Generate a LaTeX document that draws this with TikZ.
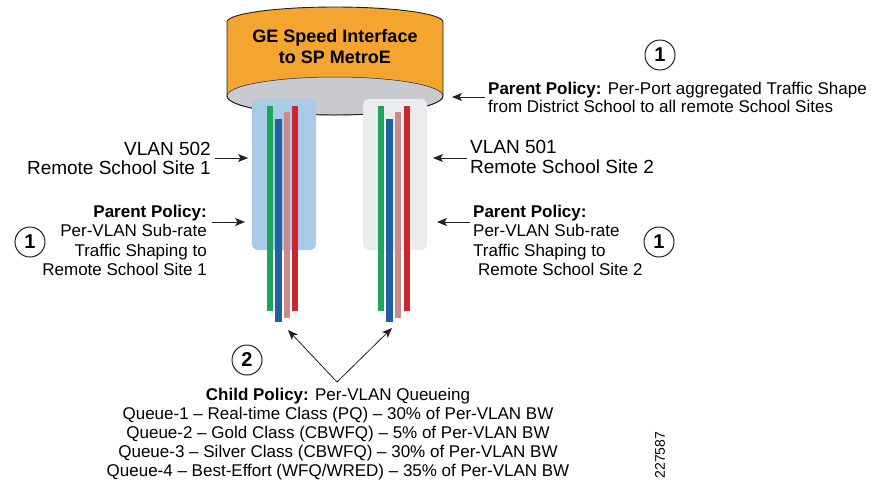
\documentclass[tikz,border=0pt]{standalone}
\usepackage{fontspec}
\setmainfont{Liberation Sans}
\usetikzlibrary{arrows.meta}

\definecolor{cylorange}{HTML}{F3A52F}
\definecolor{cylgrey}{HTML}{C8CAD0}
\definecolor{vlanblue}{HTML}{A8CBE7}
\definecolor{vlangrey}{HTML}{EBECEE}
\definecolor{qgreen}{HTML}{1DA55C}
\definecolor{qblue}{HTML}{2160A3}
\definecolor{qpink}{HTML}{C98B8E}
\definecolor{qred}{HTML}{CA2530}
\definecolor{inkline}{HTML}{231F20}

\begin{document}
\begin{tikzpicture}[x=1pt,y=-1pt,
  lbl/.style={inner sep=0pt, font=\fontsize{17}{19}\selectfont},
  big/.style={inner sep=0pt, font=\fontsize{19}{20}\selectfont},
  ptr/.style={-{Stealth[length=10pt,width=8pt,inset=2.5pt]}, line width=0.8pt, draw=inkline},
  num/.style={circle, draw=inkline, line width=1pt, minimum size=30pt, inner sep=0pt,
              font=\fontsize{20}{20}\selectfont\bfseries},
  vlanbox/.style={rounded corners=6pt, minimum width=64pt, minimum height=151pt, inner sep=0pt},
]
\useasboundingbox (0,0) rectangle (886,483);

% ---- interface cylinder ----
\fill[cylorange] (227,22) arc[start angle=180,end angle=360,x radius=108,y radius=15]
  -- (443,96) arc[start angle=0,end angle=-180,x radius=108,y radius=19] -- cycle;
\filldraw[fill=cylgrey, draw=inkline, line width=0.5pt] (335,96) ellipse[x radius=108, y radius=19];
\draw[inkline, line width=0.9pt] (227,22) arc[start angle=180,end angle=360,x radius=108,y radius=15]
  -- (443,96) arc[start angle=0,end angle=180,x radius=108,y radius=19] -- cycle;
\node[inner sep=0pt, font=\fontsize{18}{21}\selectfont\bfseries, anchor=base] (ge1) at (335,42) {GE Speed Interface};
\node[inner sep=0pt, font=\fontsize{18}{21}\selectfont\bfseries, anchor=base] (ge2) at (335,63) {to SP MetroE};
\coordinate (cylE) at (452,97);

% ---- VLAN boxes ----
\node[vlanbox, fill=vlanblue] (vl502) at (284,174.5) {};
\node[vlanbox, fill=vlangrey] (vl501) at (395,174.5) {};

% ---- queue bars, VLAN 502 ----
\fill[qgreen] (267,106) rectangle (273,311);
\fill[qblue]  (275,119) rectangle (282,322);
\fill[qpink]  (284,112) rectangle (290,318);
\fill[qred]   (292,106) rectangle (298,311);
% ---- queue bars, VLAN 501 ----
\fill[qgreen] (378,106) rectangle (384,311);
\fill[qblue]  (386,119) rectangle (393,322);
\fill[qpink]  (395,112) rectangle (401,318);
\fill[qred]   (404,106) rectangle (410,311);
\coordinate (q502) at (288,330);
\coordinate (q501) at (392,328);

% ---- left labels ----
\node[big, anchor=base east] (v502a) at (211,155) {VLAN 502};
\node[big, anchor=base east] (v502b) at (211,174) {Remote School Site 1};
\node[lbl, anchor=base east] (pl1) at (207,217) {\textbf{Parent Policy:}};
\node[lbl, anchor=base east] (pl2) at (207,236.5) {Per-VLAN Sub-rate};
\node[lbl, anchor=base east] (pl3) at (207,256) {Traffic Shaping to};
\node[lbl, anchor=base east] (pl4) at (207,275.5) {Remote School Site 1};
\node[num] (n1l) at (30,242) {1};
\coordinate (a502s) at (215,158);
\coordinate (a502e) at (248,158);
\coordinate (p502s) at (212,222);
\coordinate (p502e) at (245,222);
\draw[ptr] (a502s) -- (a502e);
\draw[ptr] (p502s) -- (p502e);

% ---- right labels ----
\node[big, anchor=base west] (v501a) at (470,153) {VLAN 501};
\node[big, anchor=base west] (v501b) at (470,173) {Remote School Site 2};
\node[lbl, anchor=base west] (pr1) at (473,217) {\textbf{Parent Policy:}};
\node[lbl, anchor=base west] (pr2) at (473,236.5) {Per-VLAN Sub-rate};
\node[lbl, anchor=base west] (pr3) at (473,256) {Traffic Shaping to};
\node[lbl, anchor=base west] (pr4) at (478,275.5) {Remote School Site 2};
\node[num] (n1r) at (659,242) {1};
\coordinate (a501s) at (467,158);
\coordinate (a501e) at (433,158);
\coordinate (p501s) at (470,222);
\coordinate (p501e) at (437,222);
\draw[ptr] (a501s) -- (a501e);
\draw[ptr] (p501s) -- (p501e);

% ---- port policy ----
\node[num] (n1t) at (660,55) {1};
\node[lbl, anchor=base west] (pp1) at (488,94) {\textbf{Parent Policy:} Per-Port aggregated Traffic Shape};
\node[lbl, anchor=base west] (pp2) at (488,112) {from District School to all remote School Sites};
\coordinate (pps) at (485,97);
\draw[ptr] (pps) -- (cylE);

% ---- child policy ----
\node[num] (n2) at (247,360) {2};
\coordinate (apex) at (337,382);
\draw[ptr] (apex) -- (q502);
\draw[ptr] (apex) -- (q501);
\node[lbl, anchor=base] (c0) at (338,400) {\textbf{Child Policy:} Per-VLAN Queueing};
\node[lbl, anchor=base] (c1) at (338,419) {Queue-1 -- Real-time Class (PQ) -- 30\% of Per-VLAN BW};
\node[lbl, anchor=base] (c2) at (338,438) {Queue-2 -- Gold Class (CBWFQ) -- 5\% of Per-VLAN BW};
\node[lbl, anchor=base] (c3) at (338,457) {Queue-3 -- Silver Class (CBWFQ) -- 30\% of Per-VLAN BW};
\node[lbl, anchor=base] (c4) at (338,476) {Queue-4 -- Best-Effort (WFQ/WRED) -- 35\% of Per-VLAN BW};

\node[inner sep=0pt, rotate=90, font=\fontsize{14}{14}\selectfont] (figid) at (660,455) {227587};
\end{tikzpicture}
\end{document}
